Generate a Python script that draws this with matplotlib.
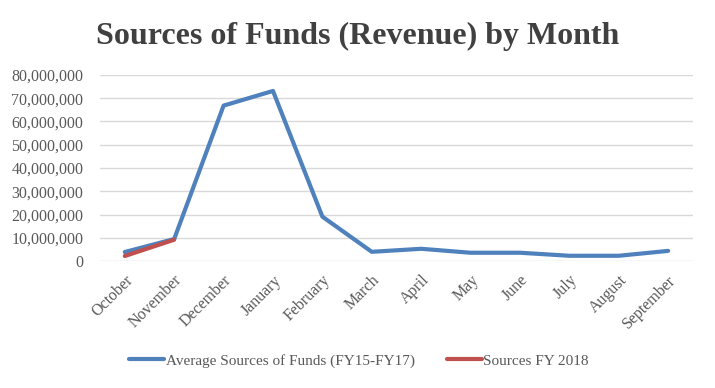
import matplotlib
matplotlib.use("Agg")
import matplotlib.pyplot as plt
from matplotlib.ticker import FuncFormatter, MultipleLocator

months = ["October", "November", "December", "January", "February", "March",
          "April", "May", "June", "July", "August", "September"]
avg_fy15_17 = [3.9e6, 9.5e6, 66.8e6, 73.1e6, 19.1e6, 4.0e6,
               5.3e6, 3.6e6, 3.6e6, 2.3e6, 2.3e6, 4.4e6]
fy2018 = [2.2e6, 9.2e6]

plt.rcParams['font.family'] = ['Liberation Serif', 'DejaVu Serif']

fig = plt.figure(figsize=(7.15, 3.88), dpi=100)
ax = fig.add_axes([0.14, 0.327, 0.829, 0.48])

x = list(range(len(months)))
ax.plot(x, avg_fy15_17, color="#4F81BD", lw=3, solid_capstyle="round",
        label="Average Sources of Funds (FY15-FY17)", zorder=3)
ax.plot(x[:len(fy2018)], fy2018, color="#C0504D", lw=3, solid_capstyle="round",
        label="Sources FY 2018", zorder=4)

ax.set_xlim(-0.5, 11.5)
ax.set_ylim(0, 80e6)
ax.yaxis.set_major_locator(MultipleLocator(10e6))
ax.yaxis.set_major_formatter(FuncFormatter(lambda v, p: f"{int(round(v)):,}"))
ax.grid(axis="y", color="#d9d9d9", lw=1)
ax.set_axisbelow(True)
for s in ax.spines.values():
    s.set_visible(False)
ax.tick_params(axis="both", length=0, labelsize=11.5, colors="#595959")
ax.tick_params(axis="y", pad=12)
ax.tick_params(axis="x", pad=8)
ax.set_xticks(x)
ax.set_xticklabels(months, rotation=45, ha="right", rotation_mode="anchor")

fig.text(0.5, 0.905, "Sources of Funds (Revenue) by Month", ha="center", va="center",
         fontsize=23, fontweight="bold", color="#404040")

leg = fig.legend(loc="center", bbox_to_anchor=(0.502, 0.07), ncol=2, frameon=False,
                 fontsize=11, handlelength=2.3, handletextpad=0.1, columnspacing=2.1)
for t in leg.get_texts():
    t.set_color("#595959")

fig.savefig("out.png", dpi=100)
